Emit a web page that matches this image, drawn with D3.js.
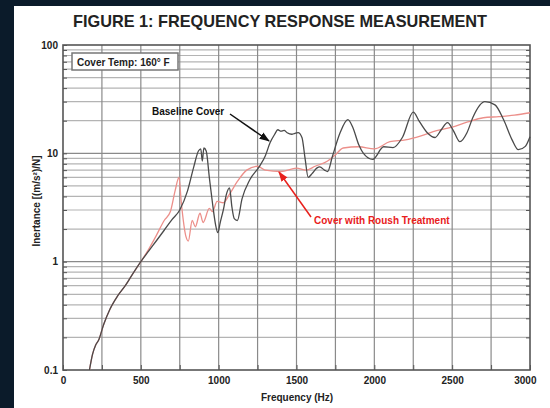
<!DOCTYPE html>
<html><head><meta charset="utf-8">
<script src="https://cdn.jsdelivr.net/npm/d3@7"></script>
<style>
html,body{margin:0;padding:0;background:#0b1b2a;}
svg{display:block;}
text{font-family:"Liberation Sans",Arial,sans-serif;font-weight:bold;}
</style></head><body>
<svg id="c" width="550" height="408"></svg>
<script>
const title = "FIGURE 1: FREQUENCY RESPONSE MEASUREMENT";
const xLabel = "Frequency (Hz)";
const yLabel = "Inertance [(m/s²)/N]";
const legendText = "Cover Temp: 160° F";
const baselineLabel = "Baseline Cover";
const roushLabel = "Cover with Roush Treatment";
const xTicks = [0,500,1000,1500,2000,2500,3000];
const yTicks = [0.1,1,10,100];

const baselineFreq = [170,190,210,230,260,300,350,400,450,500,550,600,650,700,750,800,840,870,885,895,905,920,940,960,980,995,1010,1030,1050,1070,1085,1100,1120,1150,1200,1260,1300,1330,1360,1380,1400,1420,1440,1470,1490,1510,1535,1555,1575,1600,1630,1650,1680,1700,1730,1780,1830,1860,1900,1930,1990,2060,2120,2180,2250,2290,2340,2390,2430,2470,2505,2550,2595,2635,2710,2775,2830,2885,2925,2970,3000];
const baselineVal = [0.1,0.14,0.17,0.19,0.26,0.36,0.48,0.6,0.78,1.0,1.25,1.56,1.95,2.44,3.0,4.5,7.5,10.5,11,8.5,11.2,10.5,6,3.5,2.2,1.85,2.3,3.0,4.2,4.8,3.2,2.5,2.4,3.8,5.7,7.5,9.5,12.5,15,16.5,16,16.3,15.5,15,15.3,15.5,14,9,6.0,6.5,7.3,7.5,7.0,6.8,9.3,15.5,20.5,17.6,12,10,8.8,11.5,11.3,14,24,19.6,15.5,14,16.5,19.2,16.5,12.8,15.5,21.8,30,28,20.5,13.3,10.8,11.6,14.2];

const roushFreq = [170,190,210,230,260,300,350,400,450,500,550,600,650,690,720,745,760,790,805,830,850,880,900,940,960,990,1030,1070,1120,1180,1250,1300,1400,1500,1560,1620,1700,1750,1800,1900,2000,2100,2200,2300,2400,2500,2600,2700,2800,2900,3000];
const roushVal = [0.1,0.14,0.17,0.19,0.26,0.36,0.48,0.6,0.78,1.0,1.3,1.75,2.4,2.9,4.5,6.0,3.5,1.7,1.55,2.4,2.1,2.8,2.3,3.1,2.9,3.6,3.5,4.2,5.5,7.0,7.6,7.0,6.8,7.3,7.0,7.6,8.5,9.7,11.2,11.5,11.0,12.8,13.3,14.5,16.2,17.5,19.5,21.3,21.8,22.5,23.7];

const svg = d3.select("#c");
svg.append("rect").attr("x",14).attr("y",6).attr("width",536).attr("height",402).attr("fill","#fff");

const L=63, R=530, T=45, B=370;
const x = d3.scaleLinear().domain([0,3000]).range([L,R]);
const y = d3.scaleLog().domain([0.1,100]).range([B,T]);

// grid
const minor = [];
[0.1,1,10].forEach(d=>{for(let k=2;k<=9;k++) minor.push(d*k);});
const g = svg.append("g");
g.selectAll(".hm").data(minor).join("line")
 .attr("x1",L).attr("x2",R).attr("y1",d=>y(d)).attr("y2",d=>y(d))
 .attr("stroke","#b4b4b4").attr("stroke-width",1.2);
g.selectAll(".hM").data([1,10]).join("line")
 .attr("x1",L).attr("x2",R).attr("y1",d=>y(d)).attr("y2",d=>y(d))
 .attr("stroke","#8a8a8a").attr("stroke-width",1.4);
g.selectAll(".v").data(d3.range(250,3000,250)).join("line")
 .attr("x1",d=>x(d)).attr("x2",d=>x(d)).attr("y1",T).attr("y2",B)
 .attr("stroke","#8a8a8a").attr("stroke-width",1.2);

// axes
const xa = svg.append("g").attr("transform",`translate(0,${B})`)
 .call(d3.axisBottom(x).tickValues(d3.range(0,3001,250)).tickSize(-5).tickFormat(d=>xTicks.includes(d)?d:""));
xa.select(".domain").remove();
xa.selectAll(".tick line").attr("stroke","#555");
xa.selectAll("text").attr("dy","1.1em").attr("font-size",10).attr("fill","#222").style("font-weight","bold");
xa.selectAll(".tick").filter(d=>d===3000).select("text").attr("text-anchor","end").attr("dx","0.6em");

const ya = svg.append("g").attr("transform",`translate(${L},0)`)
 .call(d3.axisLeft(y).tickValues(yTicks.concat(minor)).tickSize(-4).tickFormat(d=>yTicks.includes(d)?d:""));
ya.select(".domain").remove();
ya.selectAll(".tick line").attr("stroke","#555");
ya.selectAll("text").attr("dx","-0.2em").attr("font-size",10).attr("fill","#222").style("font-weight","bold");

const yr = svg.append("g").attr("transform",`translate(${R},0)`)
 .call(d3.axisRight(y).tickValues(minor).tickSize(-4).tickFormat(""));
yr.select(".domain").remove();
yr.selectAll(".tick line").attr("stroke","#555");

svg.append("rect").attr("x",L).attr("y",T).attr("width",R-L).attr("height",B-T)
 .attr("fill","none").attr("stroke","#555").attr("stroke-width",1.6);

// lines
const line = (fs,vs)=>d3.line().x((d,i)=>x(fs[i])).y((d,i)=>y(vs[i])).curve(d3.curveMonotoneX)(vs);
svg.append("path").attr("d",line(roushFreq,roushVal)).attr("fill","none")
 .attr("stroke","#ec8f8a").attr("stroke-width",1.3);
svg.append("path").attr("d",line(baselineFreq,baselineVal)).attr("fill","none")
 .attr("stroke","#4a4a4a").attr("stroke-width",1.3);

// legend box
svg.append("rect").attr("x",72).attr("y",53).attr("width",106).attr("height",17)
 .attr("fill","#fff").attr("stroke","#777").attr("stroke-width",1.5);
svg.append("text").attr("x",77).attr("y",65.5).attr("font-size",10).attr("fill","#222").text(legendText);

// annotations
const defs = svg.append("defs");
[["ab","#111"],["ar","#e8201c"]].forEach(([id,c])=>{
 defs.append("marker").attr("id",id).attr("viewBox","0 0 10 10").attr("refX",9).attr("refY",5)
  .attr("markerWidth",7).attr("markerHeight",7).attr("orient","auto")
  .append("path").attr("d","M0,1.5L10,5L0,8.5Z").attr("fill",c);
});
svg.append("text").attr("x",152).attr("y",114.5).attr("font-size",10).attr("fill","#111").text(baselineLabel);
svg.append("line").attr("x1",230).attr("y1",114).attr("x2",269).attr("y2",141)
 .attr("stroke","#111").attr("stroke-width",1.5).attr("marker-end","url(#ab)");
svg.append("text").attr("x",314).attr("y",224).attr("font-size",10).attr("fill","#e8201c").text(roushLabel);
svg.append("line").attr("x1",311).attr("y1",217).attr("x2",279).attr("y2",172)
 .attr("stroke","#e8201c").attr("stroke-width",1.5).attr("marker-end","url(#ar)");

// titles
svg.append("text").attr("x",280).attr("y",27).attr("text-anchor","middle").attr("font-size",17)
 .attr("fill","#222").attr("textLength",414).attr("lengthAdjust","spacingAndGlyphs").text(title);
svg.append("text").attr("x",297).attr("y",401).attr("text-anchor","middle").attr("font-size",10).attr("fill","#222").text(xLabel);
svg.append("text").attr("transform","translate(40,201) rotate(-90)").attr("text-anchor","middle")
 .attr("font-size",10).attr("fill","#222").text(yLabel);
</script></body></html>
